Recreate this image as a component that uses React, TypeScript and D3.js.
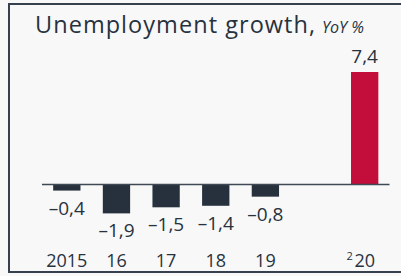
import React from "react";
import * as d3 from "d3";

const years = ["2015", "16", "17", "18", "19", "20"];
const values = [-0.4, -1.9, -1.5, -1.4, -0.8, 7.4];
const slots = ["2015", "16", "17", "18", "19", "", "20"];
const valueLabels = ["–0,4", "–1,9", "–1,5", "–1,4", "–0,8", "7,4"];
const footnoteYear = "20";
const footnoteMark = "2";

const W = 401;
const H = 276;
const FONT = "'Open Sans', sans-serif";
const TEXT = "#27323e";
const DARK = "#26313d";
const RED = "#c30d3b";

export default function App() {
  const x = d3
    .scaleBand<string>()
    .domain(slots)
    .range([42, 389.5])
    .paddingInner(0.45)
    .paddingOuter(0.225);
  const y = d3.scaleLinear().domain([0, 7.4]).range([184.5, 72]);
  const bw = x.bandwidth();

  return (
    <svg
      width={W}
      height={H}
      style={{ position: "fixed", left: 0, top: 0, background: "#f8f8f8" }}
      fontFamily={FONT}
    >
      <rect x={0} y={0} width={W} height={H} fill="#f8f8f8" />
      {/* frame */}
      <line x1={8} x2={W} y1={4} y2={4} stroke="#36414d" strokeWidth={2} />
      <line x1={9} x2={9} y1={3} y2={273} stroke="#36414d" strokeWidth={2} />
      <line x1={8} x2={W} y1={272} y2={272} stroke="#36414d" strokeWidth={2} />

      {/* title */}
      <text x={35} y={33} fontSize={23.5} letterSpacing={1.05} fill={TEXT}>
        Unemployment growth,
      </text>
      <text x={322} y={33} fontSize={16} fontStyle="italic" fill={TEXT}>
        YoY %
      </text>

      {/* bars */}
      {years.map((yr, i) => {
        const v = values[i];
        const x0 = x(yr)!;
        const top = v >= 0 ? y(v) : y(0);
        const h = Math.abs(y(v) - y(0));
        return (
          <rect
            key={yr}
            x={x0}
            y={top}
            width={bw}
            height={h}
            fill={yr === footnoteYear ? RED : DARK}
          />
        );
      })}

      {/* zero axis */}
      <line
        x1={42}
        x2={389.5}
        y1={y(0)}
        y2={y(0)}
        stroke="#3e4955"
        strokeWidth={1.6}
      />

      {/* value labels */}
      {years.map((yr, i) => {
        const v = values[i];
        const cx = x(yr)! + bw / 2;
        const ly = v >= 0 ? y(v) - 9 : y(v) + 24;
        return (
          <text
            key={"v" + yr}
            x={cx}
            y={ly}
            fontSize={19}
            textAnchor="middle"
            fill={TEXT}
          >
            {valueLabels[i]}
          </text>
        );
      })}

      {/* year labels */}
      {years.map((yr) => {
        const cx = x(yr)! + bw / 2;
        return (
          <g key={"y" + yr}>
            <text x={cx} y={267} fontSize={18} textAnchor="middle" fill={TEXT}>
              {yr}
            </text>
            {yr === footnoteYear && (
              <text
                x={cx - 12}
                y={260}
                fontSize={11}
                textAnchor="end"
                fill={TEXT}
              >
                {footnoteMark}
              </text>
            )}
          </g>
        );
      })}
    </svg>
  );
}
